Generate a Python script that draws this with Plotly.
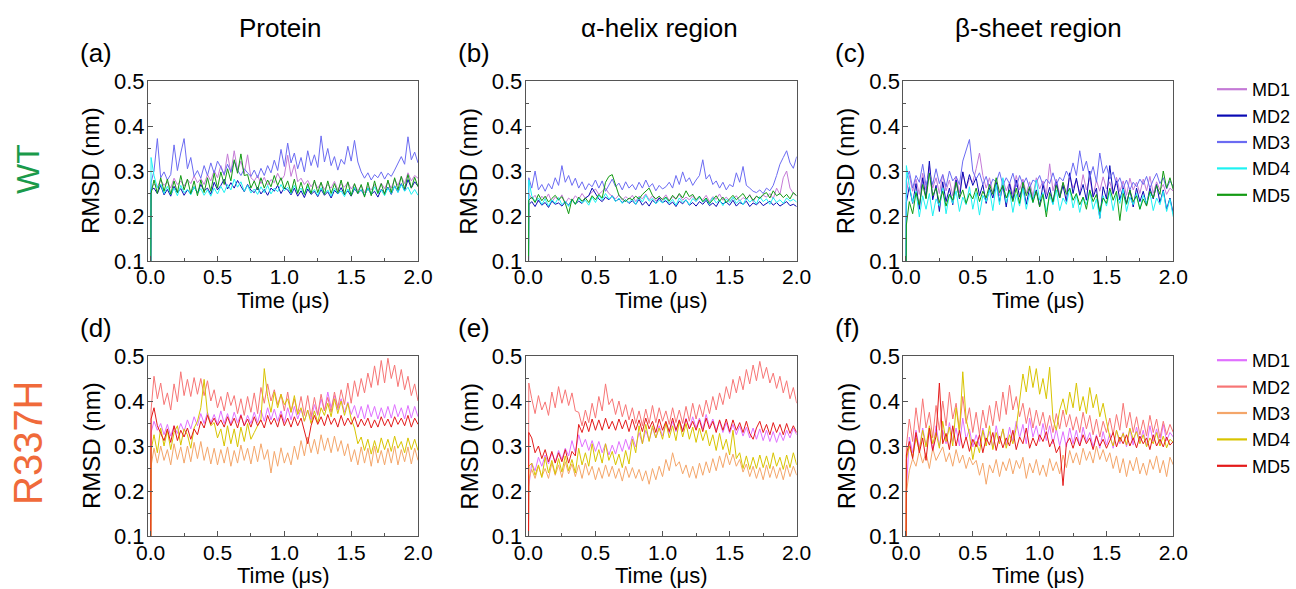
import numpy as np
import plotly.graph_objects as go

# ---------------- data ----------------
# time grid (μs): reference frame at 0, first frame, then 0.025 μs steps
T = np.concatenate([[0.0, 0.003], np.arange(1, 81) * 0.025])

labels = ["MD1", "MD2", "MD3", "MD4", "MD5"]
col_titles = ["Protein", "α-helix region", "β-sheet region"]
panel_tags = ["(a)", "(b)", "(c)", "(d)", "(e)", "(f)"]
row_names = ["WT", "R337H"]
x_ticks = [0.0, 0.5, 1.0, 1.5, 2.0]
y_ticks = [0.1, 0.2, 0.3, 0.4, 0.5]

wt_colors = ["#C47AD6", "#0A0AB4", "#6B6BF2", "#1EF2F2", "#139A13"]
mut_colors = ["#E070FF", "#F77575", "#F4A66A", "#D8C400", "#E41A1A"]

# WT protein (a)
a_md1 = [0.0, 0.262,
         0.271, 0.265, 0.280, 0.268, 0.276, 0.262, 0.284, 0.270, 0.278, 0.266,
         0.281, 0.272, 0.289, 0.274, 0.283, 0.270, 0.292, 0.278, 0.301, 0.285,
         0.312, 0.290, 0.338, 0.296, 0.345, 0.301, 0.322, 0.294, 0.336, 0.285,
         0.278, 0.290, 0.272, 0.286, 0.268, 0.281, 0.274, 0.295, 0.279, 0.290,
         0.335, 0.288, 0.314, 0.276, 0.284, 0.270, 0.279, 0.265, 0.276, 0.262,
         0.274, 0.259, 0.270, 0.262, 0.277, 0.258, 0.272, 0.264, 0.275, 0.260,
         0.271, 0.256, 0.268, 0.252, 0.266, 0.258, 0.270, 0.255, 0.273, 0.261,
         0.276, 0.262, 0.282, 0.268, 0.288, 0.272, 0.296, 0.278, 0.290, 0.284]
a_md2 = [0.0, 0.258,
         0.262, 0.250, 0.268, 0.247, 0.259, 0.244, 0.266, 0.252, 0.261, 0.246,
         0.258, 0.249, 0.265, 0.251, 0.270, 0.256, 0.262, 0.248, 0.275, 0.258,
         0.268, 0.282, 0.260, 0.274, 0.262, 0.279, 0.266, 0.254, 0.270, 0.257,
         0.252, 0.264, 0.249, 0.259, 0.246, 0.262, 0.255, 0.268, 0.250, 0.263,
         0.258, 0.247, 0.262, 0.244, 0.256, 0.241, 0.260, 0.248, 0.255, 0.243,
         0.259, 0.246, 0.254, 0.240, 0.257, 0.249, 0.263, 0.247, 0.256, 0.244,
         0.261, 0.250, 0.258, 0.245, 0.262, 0.248, 0.255, 0.242, 0.259, 0.251,
         0.264, 0.248, 0.267, 0.253, 0.272, 0.256, 0.281, 0.262, 0.276, 0.266]
a_md3 = [0.0, 0.275,
         0.300, 0.372, 0.285, 0.298, 0.280, 0.292, 0.358, 0.301, 0.340, 0.372,
         0.305, 0.330, 0.288, 0.301, 0.284, 0.312, 0.290, 0.318, 0.295, 0.322,
         0.308, 0.292, 0.315, 0.298, 0.322, 0.302, 0.290, 0.305, 0.296, 0.288,
         0.302, 0.285, 0.306, 0.290, 0.312, 0.296, 0.324, 0.301, 0.348, 0.310,
         0.362, 0.318, 0.340, 0.305, 0.330, 0.298, 0.345, 0.312, 0.336, 0.308,
         0.378, 0.320, 0.350, 0.312, 0.332, 0.302, 0.326, 0.315, 0.355, 0.322,
         0.368, 0.320, 0.298, 0.284, 0.296, 0.280, 0.292, 0.285, 0.298, 0.282,
         0.295, 0.288, 0.302, 0.318, 0.332, 0.315, 0.376, 0.325, 0.342, 0.318]
a_md4 = [0.0, 0.330,
         0.290, 0.262, 0.271, 0.250, 0.266, 0.248, 0.262, 0.245, 0.268, 0.252,
         0.259, 0.247, 0.265, 0.250, 0.261, 0.246, 0.258, 0.244, 0.262, 0.249,
         0.266, 0.252, 0.270, 0.258, 0.282, 0.264, 0.276, 0.255, 0.268, 0.251,
         0.260, 0.248, 0.265, 0.252, 0.268, 0.249, 0.262, 0.254, 0.270, 0.256,
         0.264, 0.250, 0.268, 0.253, 0.262, 0.248, 0.266, 0.251, 0.259, 0.246,
         0.263, 0.249, 0.258, 0.244, 0.262, 0.250, 0.256, 0.243, 0.260, 0.247,
         0.264, 0.251, 0.259, 0.246, 0.262, 0.249, 0.265, 0.250, 0.258, 0.245,
         0.262, 0.250, 0.266, 0.252, 0.270, 0.255, 0.264, 0.248, 0.259, 0.246]
a_md5 = [0.0, 0.250,
         0.280, 0.250, 0.285, 0.255, 0.282, 0.248, 0.278, 0.252, 0.290, 0.258,
         0.282, 0.250, 0.278, 0.245, 0.280, 0.252, 0.285, 0.255, 0.295, 0.262,
         0.298, 0.270, 0.305, 0.278, 0.325, 0.295, 0.338, 0.290, 0.292, 0.262,
         0.278, 0.258, 0.285, 0.262, 0.280, 0.265, 0.290, 0.268, 0.285, 0.260,
         0.278, 0.252, 0.282, 0.250, 0.275, 0.248, 0.272, 0.250, 0.280, 0.252,
         0.275, 0.248, 0.278, 0.250, 0.272, 0.252, 0.280, 0.248, 0.276, 0.245,
         0.272, 0.250, 0.270, 0.242, 0.275, 0.245, 0.278, 0.250, 0.272, 0.248,
         0.280, 0.252, 0.285, 0.258, 0.288, 0.260, 0.292, 0.262, 0.286, 0.265]

# WT alpha-helix (b)
b_md1 = [0.0, 0.250,
         0.238, 0.246, 0.232, 0.244, 0.236, 0.249, 0.231, 0.242, 0.235, 0.247,
         0.228, 0.240, 0.233, 0.245, 0.237, 0.250, 0.239, 0.246, 0.252, 0.260,
         0.248, 0.256, 0.262, 0.250, 0.244, 0.238, 0.247, 0.235, 0.243, 0.237,
         0.246, 0.232, 0.244, 0.238, 0.249, 0.236, 0.245, 0.233, 0.241, 0.238,
         0.247, 0.234, 0.243, 0.237, 0.248, 0.235, 0.242, 0.236, 0.245, 0.233,
         0.240, 0.236, 0.246, 0.232, 0.243, 0.237, 0.249, 0.235, 0.242, 0.234,
         0.238, 0.245, 0.233, 0.241, 0.236, 0.248, 0.232, 0.244, 0.239, 0.246,
         0.242, 0.250, 0.238, 0.262, 0.248, 0.285, 0.300, 0.262, 0.250, 0.245]
b_md2 = [0.0, 0.225,
         0.232, 0.221, 0.235, 0.224, 0.230, 0.219, 0.233, 0.226, 0.229, 0.222,
         0.231, 0.224, 0.236, 0.227, 0.233, 0.228, 0.240, 0.245, 0.262, 0.250,
         0.238, 0.232, 0.242, 0.236, 0.245, 0.233, 0.238, 0.230, 0.236, 0.228,
         0.234, 0.226, 0.237, 0.224, 0.232, 0.222, 0.235, 0.228, 0.240, 0.230,
         0.234, 0.225, 0.231, 0.221, 0.233, 0.227, 0.236, 0.224, 0.230, 0.222,
         0.232, 0.226, 0.235, 0.223, 0.229, 0.221, 0.234, 0.227, 0.231, 0.224,
         0.235, 0.222, 0.230, 0.226, 0.233, 0.221, 0.229, 0.225, 0.232, 0.223,
         0.228, 0.233, 0.224, 0.230, 0.222, 0.227, 0.232, 0.223, 0.226, 0.221]
b_md3 = [0.0, 0.285,
         0.262, 0.300, 0.258, 0.270, 0.255, 0.272, 0.260, 0.285, 0.268, 0.312,
         0.275, 0.290, 0.268, 0.284, 0.262, 0.276, 0.258, 0.272, 0.265, 0.280,
         0.262, 0.278, 0.255, 0.270, 0.282, 0.265, 0.273, 0.258, 0.276, 0.262,
         0.270, 0.258, 0.275, 0.262, 0.280, 0.264, 0.272, 0.256, 0.268, 0.260,
         0.265, 0.275, 0.262, 0.290, 0.270, 0.298, 0.276, 0.285, 0.268, 0.280,
         0.290, 0.325, 0.282, 0.292, 0.270, 0.278, 0.262, 0.275, 0.258, 0.270,
         0.265, 0.296, 0.275, 0.310, 0.268, 0.262, 0.255, 0.252, 0.258, 0.250,
         0.262, 0.256, 0.268, 0.290, 0.315, 0.330, 0.345, 0.318, 0.306, 0.332]
b_md4 = [0.0, 0.280,
         0.245, 0.232, 0.240, 0.226, 0.238, 0.222, 0.236, 0.228, 0.241, 0.225,
         0.233, 0.221, 0.237, 0.226, 0.240, 0.229, 0.235, 0.224, 0.242, 0.230,
         0.246, 0.236, 0.250, 0.238, 0.244, 0.232, 0.240, 0.228, 0.236, 0.230,
         0.238, 0.226, 0.242, 0.231, 0.246, 0.233, 0.239, 0.227, 0.235, 0.229,
         0.241, 0.228, 0.237, 0.224, 0.240, 0.230, 0.236, 0.225, 0.239, 0.232,
         0.244, 0.231, 0.238, 0.226, 0.241, 0.229, 0.236, 0.223, 0.238, 0.230,
         0.242, 0.228, 0.236, 0.225, 0.240, 0.231, 0.237, 0.227, 0.243, 0.232,
         0.238, 0.226, 0.241, 0.230, 0.236, 0.228, 0.240, 0.233, 0.237, 0.231]
b_md5 = [0.0, 0.235,
         0.242, 0.230, 0.248, 0.234, 0.244, 0.231, 0.239, 0.246, 0.236, 0.243,
         0.228, 0.205, 0.238, 0.226, 0.242, 0.233, 0.240, 0.230, 0.245, 0.236,
         0.248, 0.240, 0.275, 0.288, 0.292, 0.270, 0.246, 0.238, 0.232, 0.240,
         0.236, 0.244, 0.238, 0.248, 0.255, 0.262, 0.246, 0.238, 0.244, 0.236,
         0.242, 0.233, 0.246, 0.238, 0.250, 0.240, 0.256, 0.243, 0.248, 0.236,
         0.244, 0.232, 0.240, 0.228, 0.236, 0.245, 0.233, 0.242, 0.230, 0.238,
         0.246, 0.236, 0.243, 0.250, 0.238, 0.246, 0.235, 0.244, 0.239, 0.248,
         0.252, 0.240, 0.256, 0.245, 0.250, 0.241, 0.248, 0.238, 0.252, 0.245]

# WT beta-sheet (c)
c_md1 = [0.0, 0.250,
         0.290, 0.255, 0.282, 0.248, 0.295, 0.258, 0.310, 0.262, 0.285, 0.250,
         0.292, 0.256, 0.280, 0.245, 0.288, 0.252, 0.298, 0.260, 0.284, 0.275,
         0.305, 0.340, 0.290, 0.262, 0.285, 0.250, 0.278, 0.245, 0.282, 0.256,
         0.275, 0.248, 0.290, 0.258, 0.282, 0.250, 0.276, 0.244, 0.285, 0.260,
         0.278, 0.248, 0.316, 0.256, 0.282, 0.247, 0.274, 0.252, 0.288, 0.262,
         0.280, 0.250, 0.292, 0.258, 0.284, 0.245, 0.279, 0.255, 0.287, 0.260,
         0.276, 0.248, 0.286, 0.254, 0.278, 0.246, 0.284, 0.258, 0.275, 0.250,
         0.282, 0.256, 0.288, 0.250, 0.276, 0.258, 0.270, 0.248, 0.262, 0.255]
c_md2 = [0.0, 0.230,
         0.265, 0.228, 0.272, 0.215, 0.285, 0.240, 0.322, 0.236, 0.268, 0.210,
         0.276, 0.232, 0.262, 0.225, 0.280, 0.238, 0.298, 0.262, 0.292, 0.268,
         0.285, 0.245, 0.270, 0.228, 0.262, 0.240, 0.275, 0.232, 0.268, 0.220,
         0.272, 0.236, 0.280, 0.242, 0.268, 0.226, 0.262, 0.235, 0.258, 0.222,
         0.270, 0.238, 0.264, 0.228, 0.276, 0.240, 0.268, 0.232, 0.296, 0.250,
         0.284, 0.246, 0.270, 0.235, 0.300, 0.242, 0.262, 0.195, 0.265, 0.238,
         0.312, 0.250, 0.278, 0.236, 0.264, 0.228, 0.258, 0.220, 0.262, 0.232,
         0.255, 0.225, 0.262, 0.238, 0.270, 0.230, 0.258, 0.215, 0.240, 0.205]
c_md3 = [0.0, 0.280,
         0.300, 0.262, 0.290, 0.275, 0.315, 0.268, 0.296, 0.270, 0.305, 0.272,
         0.292, 0.265, 0.300, 0.278, 0.288, 0.270, 0.322, 0.345, 0.370, 0.300,
         0.282, 0.296, 0.270, 0.288, 0.262, 0.282, 0.275, 0.298, 0.268, 0.285,
         0.272, 0.295, 0.265, 0.290, 0.270, 0.285, 0.262, 0.280, 0.275, 0.290,
         0.268, 0.282, 0.272, 0.296, 0.270, 0.286, 0.278, 0.300, 0.285, 0.318,
         0.290, 0.345, 0.300, 0.322, 0.285, 0.310, 0.275, 0.340, 0.295, 0.312,
         0.282, 0.298, 0.270, 0.285, 0.262, 0.280, 0.258, 0.275, 0.265, 0.282,
         0.270, 0.288, 0.262, 0.280, 0.295, 0.272, 0.285, 0.260, 0.278, 0.265]
c_md4 = [0.0, 0.312,
         0.268, 0.230, 0.255, 0.198, 0.245, 0.215, 0.250, 0.200, 0.238, 0.222,
         0.262, 0.205, 0.248, 0.228, 0.256, 0.210, 0.242, 0.225, 0.265, 0.215,
         0.252, 0.202, 0.246, 0.232, 0.258, 0.212, 0.270, 0.225, 0.285, 0.230,
         0.255, 0.208, 0.248, 0.222, 0.262, 0.215, 0.250, 0.230, 0.280, 0.235,
         0.252, 0.210, 0.245, 0.225, 0.258, 0.212, 0.240, 0.226, 0.262, 0.218,
         0.248, 0.208, 0.242, 0.225, 0.256, 0.215, 0.238, 0.195, 0.245, 0.222,
         0.255, 0.212, 0.248, 0.228, 0.260, 0.210, 0.242, 0.225, 0.250, 0.215,
         0.246, 0.228, 0.252, 0.212, 0.240, 0.225, 0.255, 0.210, 0.238, 0.198]
c_md5 = [0.0, 0.180,
         0.232, 0.205, 0.252, 0.225, 0.270, 0.238, 0.295, 0.245, 0.262, 0.230,
         0.255, 0.222, 0.248, 0.235, 0.275, 0.240, 0.258, 0.228, 0.250, 0.238,
         0.262, 0.232, 0.255, 0.240, 0.270, 0.248, 0.285, 0.252, 0.268, 0.240,
         0.258, 0.232, 0.262, 0.228, 0.275, 0.245, 0.265, 0.230, 0.255, 0.220,
         0.248, 0.198, 0.252, 0.232, 0.268, 0.240, 0.275, 0.248, 0.262, 0.235,
         0.250, 0.225, 0.242, 0.215, 0.258, 0.232, 0.248, 0.210, 0.240, 0.228,
         0.262, 0.235, 0.255, 0.190, 0.250, 0.226, 0.258, 0.232, 0.245, 0.215,
         0.238, 0.222, 0.255, 0.240, 0.268, 0.248, 0.300, 0.262, 0.285, 0.258]

# R337H protein (d)
d_md1 = [0.0, 0.330,
         0.355, 0.335, 0.350, 0.325, 0.348, 0.322, 0.345, 0.328, 0.350, 0.332,
         0.358, 0.338, 0.365, 0.345, 0.372, 0.350, 0.375, 0.352, 0.370, 0.348,
         0.378, 0.350, 0.372, 0.348, 0.375, 0.352, 0.370, 0.345, 0.368, 0.350,
         0.375, 0.352, 0.380, 0.355, 0.385, 0.358, 0.382, 0.355, 0.378, 0.352,
         0.385, 0.358, 0.388, 0.360, 0.382, 0.355, 0.380, 0.358, 0.392, 0.368,
         0.405, 0.378, 0.420, 0.385, 0.412, 0.380, 0.405, 0.375, 0.398, 0.370,
         0.390, 0.362, 0.388, 0.360, 0.392, 0.365, 0.388, 0.360, 0.385, 0.362,
         0.388, 0.362, 0.392, 0.365, 0.385, 0.360, 0.390, 0.362, 0.388, 0.365]
d_md2 = [0.0, 0.380,
         0.455, 0.405, 0.440, 0.392, 0.418, 0.380, 0.438, 0.398, 0.465, 0.412,
         0.448, 0.410, 0.452, 0.415, 0.450, 0.412, 0.445, 0.400, 0.425, 0.385,
         0.410, 0.378, 0.420, 0.390, 0.412, 0.372, 0.405, 0.368, 0.410, 0.375,
         0.418, 0.372, 0.430, 0.395, 0.438, 0.400, 0.425, 0.392, 0.415, 0.378,
         0.420, 0.375, 0.405, 0.372, 0.410, 0.368, 0.412, 0.365, 0.408, 0.370,
         0.415, 0.378, 0.408, 0.375, 0.420, 0.385, 0.425, 0.392, 0.440, 0.395,
         0.445, 0.410, 0.450, 0.418, 0.462, 0.430, 0.478, 0.435, 0.490, 0.440,
         0.495, 0.450, 0.480, 0.432, 0.470, 0.425, 0.455, 0.412, 0.438, 0.400]
d_md3 = [0.0, 0.255,
         0.295, 0.262, 0.300, 0.268, 0.292, 0.258, 0.305, 0.270, 0.298, 0.262,
         0.300, 0.265, 0.308, 0.272, 0.310, 0.268, 0.298, 0.260, 0.295, 0.258,
         0.292, 0.262, 0.298, 0.255, 0.290, 0.262, 0.302, 0.268, 0.295, 0.260,
         0.300, 0.265, 0.305, 0.270, 0.292, 0.240, 0.288, 0.255, 0.296, 0.262,
         0.285, 0.258, 0.300, 0.270, 0.312, 0.278, 0.320, 0.285, 0.315, 0.282,
         0.325, 0.290, 0.318, 0.285, 0.322, 0.288, 0.312, 0.278, 0.305, 0.265,
         0.292, 0.258, 0.298, 0.262, 0.295, 0.255, 0.300, 0.262, 0.290, 0.258,
         0.295, 0.262, 0.300, 0.258, 0.292, 0.265, 0.298, 0.260, 0.295, 0.268]
d_md4 = [0.0, 0.290,
         0.325, 0.285, 0.340, 0.300, 0.335, 0.292, 0.330, 0.345, 0.302, 0.338,
         0.325, 0.295, 0.340, 0.355, 0.385, 0.448, 0.372, 0.345, 0.352, 0.318,
         0.338, 0.300, 0.345, 0.305, 0.338, 0.298, 0.342, 0.310, 0.350, 0.315,
         0.330, 0.345, 0.360, 0.472, 0.410, 0.375, 0.420, 0.385, 0.415, 0.392,
         0.405, 0.375, 0.412, 0.370, 0.385, 0.355, 0.380, 0.350, 0.378, 0.352,
         0.385, 0.368, 0.395, 0.365, 0.405, 0.372, 0.400, 0.368, 0.395, 0.360,
         0.340, 0.305, 0.320, 0.290, 0.315, 0.282, 0.312, 0.285, 0.318, 0.292,
         0.315, 0.288, 0.322, 0.295, 0.310, 0.285, 0.318, 0.292, 0.315, 0.290]
d_md5 = [0.0, 0.360,
         0.385, 0.345, 0.328, 0.312, 0.338, 0.308, 0.345, 0.312, 0.335, 0.320,
         0.340, 0.315, 0.338, 0.325, 0.355, 0.340, 0.368, 0.348, 0.362, 0.345,
         0.358, 0.342, 0.365, 0.345, 0.362, 0.340, 0.368, 0.345, 0.360, 0.342,
         0.365, 0.345, 0.358, 0.340, 0.368, 0.348, 0.362, 0.342, 0.370, 0.345,
         0.362, 0.342, 0.365, 0.345, 0.362, 0.335, 0.305, 0.345, 0.368, 0.348,
         0.365, 0.345, 0.370, 0.348, 0.362, 0.342, 0.368, 0.345, 0.362, 0.348,
         0.365, 0.342, 0.360, 0.345, 0.362, 0.340, 0.358, 0.342, 0.365, 0.345,
         0.360, 0.342, 0.365, 0.348, 0.362, 0.345, 0.368, 0.342, 0.362, 0.348]

# R337H alpha-helix (e)
e_md1 = [0.0, 0.210,
         0.262, 0.245, 0.275, 0.255, 0.280, 0.260, 0.285, 0.265, 0.290, 0.270,
         0.295, 0.278, 0.312, 0.285, 0.325, 0.298, 0.315, 0.290, 0.312, 0.288,
         0.310, 0.285, 0.305, 0.280, 0.302, 0.282, 0.310, 0.288, 0.315, 0.292,
         0.322, 0.298, 0.330, 0.305, 0.335, 0.312, 0.340, 0.318, 0.345, 0.322,
         0.352, 0.328, 0.355, 0.332, 0.358, 0.335, 0.362, 0.338, 0.365, 0.340,
         0.362, 0.338, 0.370, 0.342, 0.360, 0.335, 0.355, 0.330, 0.352, 0.328,
         0.348, 0.325, 0.345, 0.322, 0.342, 0.318, 0.340, 0.315, 0.338, 0.312,
         0.335, 0.310, 0.332, 0.308, 0.330, 0.312, 0.335, 0.318, 0.340, 0.325]
e_md2 = [0.0, 0.440,
         0.405, 0.372, 0.412, 0.380, 0.398, 0.368, 0.420, 0.385, 0.432, 0.395,
         0.425, 0.390, 0.418, 0.378, 0.375, 0.345, 0.380, 0.352, 0.395, 0.362,
         0.410, 0.378, 0.438, 0.392, 0.405, 0.370, 0.400, 0.365, 0.392, 0.358,
         0.385, 0.350, 0.378, 0.345, 0.382, 0.350, 0.390, 0.352, 0.385, 0.355,
         0.378, 0.348, 0.385, 0.352, 0.380, 0.350, 0.388, 0.355, 0.395, 0.360,
         0.392, 0.365, 0.402, 0.372, 0.410, 0.380, 0.418, 0.392, 0.432, 0.405,
         0.448, 0.418, 0.455, 0.425, 0.470, 0.438, 0.480, 0.445, 0.488, 0.450,
         0.475, 0.440, 0.462, 0.428, 0.455, 0.418, 0.445, 0.405, 0.430, 0.395]
e_md3 = [0.0, 0.225,
         0.248, 0.228, 0.255, 0.232, 0.250, 0.228, 0.262, 0.235, 0.258, 0.230,
         0.265, 0.238, 0.260, 0.232, 0.258, 0.228, 0.262, 0.235, 0.255, 0.225,
         0.252, 0.228, 0.258, 0.232, 0.255, 0.228, 0.250, 0.222, 0.255, 0.230,
         0.252, 0.228, 0.248, 0.222, 0.245, 0.215, 0.250, 0.225, 0.255, 0.232,
         0.270, 0.245, 0.285, 0.255, 0.265, 0.238, 0.258, 0.230, 0.255, 0.228,
         0.262, 0.235, 0.265, 0.240, 0.272, 0.245, 0.278, 0.252, 0.285, 0.258,
         0.282, 0.255, 0.270, 0.242, 0.260, 0.232, 0.255, 0.228, 0.252, 0.225,
         0.258, 0.230, 0.255, 0.228, 0.252, 0.225, 0.258, 0.232, 0.255, 0.235]
e_md4 = [0.0, 0.255,
         0.262, 0.235, 0.258, 0.230, 0.275, 0.240, 0.268, 0.238, 0.272, 0.242,
         0.278, 0.245, 0.270, 0.240, 0.295, 0.258, 0.285, 0.255, 0.305, 0.265,
         0.292, 0.262, 0.305, 0.268, 0.288, 0.258, 0.282, 0.252, 0.290, 0.260,
         0.315, 0.285, 0.345, 0.305, 0.348, 0.310, 0.345, 0.318, 0.340, 0.315,
         0.352, 0.318, 0.345, 0.312, 0.355, 0.320, 0.350, 0.315, 0.342, 0.308,
         0.340, 0.312, 0.335, 0.300, 0.325, 0.290, 0.328, 0.292, 0.315, 0.280,
         0.335, 0.272, 0.285, 0.250, 0.278, 0.248, 0.275, 0.250, 0.280, 0.252,
         0.278, 0.250, 0.285, 0.255, 0.275, 0.248, 0.280, 0.252, 0.285, 0.258]
e_md5 = [0.0, 0.330,
         0.318, 0.285, 0.300, 0.272, 0.292, 0.265, 0.288, 0.262, 0.285, 0.265,
         0.292, 0.262, 0.288, 0.278, 0.348, 0.330, 0.355, 0.332, 0.360, 0.335,
         0.358, 0.335, 0.362, 0.338, 0.355, 0.335, 0.360, 0.338, 0.358, 0.332,
         0.360, 0.335, 0.358, 0.332, 0.362, 0.338, 0.355, 0.330, 0.360, 0.335,
         0.355, 0.332, 0.362, 0.335, 0.358, 0.332, 0.360, 0.338, 0.355, 0.335,
         0.358, 0.332, 0.362, 0.338, 0.355, 0.330, 0.358, 0.335, 0.360, 0.332,
         0.358, 0.335, 0.352, 0.330, 0.355, 0.328, 0.315, 0.340, 0.355, 0.330,
         0.348, 0.325, 0.352, 0.330, 0.348, 0.325, 0.350, 0.328, 0.345, 0.330]

# R337H beta-sheet (f)
f_md1 = [0.0, 0.200,
         0.320, 0.285, 0.335, 0.295, 0.340, 0.302, 0.330, 0.288, 0.345, 0.300,
         0.335, 0.305, 0.352, 0.310, 0.340, 0.300, 0.362, 0.315, 0.338, 0.298,
         0.325, 0.300, 0.340, 0.310, 0.332, 0.295, 0.345, 0.308, 0.338, 0.302,
         0.342, 0.310, 0.355, 0.318, 0.348, 0.305, 0.362, 0.320, 0.345, 0.310,
         0.350, 0.312, 0.345, 0.305, 0.338, 0.300, 0.332, 0.298, 0.340, 0.305,
         0.335, 0.300, 0.342, 0.310, 0.330, 0.298, 0.325, 0.295, 0.332, 0.302,
         0.328, 0.295, 0.335, 0.305, 0.330, 0.298, 0.338, 0.302, 0.342, 0.308,
         0.335, 0.300, 0.345, 0.310, 0.338, 0.305, 0.348, 0.312, 0.330, 0.320]
f_md2 = [0.0, 0.300,
         0.360, 0.310, 0.385, 0.330, 0.405, 0.340, 0.375, 0.318, 0.390, 0.335,
         0.400, 0.345, 0.420, 0.360, 0.395, 0.335, 0.410, 0.350, 0.385, 0.330,
         0.375, 0.325, 0.380, 0.340, 0.390, 0.345, 0.400, 0.355, 0.420, 0.370,
         0.435, 0.380, 0.410, 0.365, 0.395, 0.350, 0.385, 0.340, 0.380, 0.345,
         0.375, 0.335, 0.368, 0.330, 0.372, 0.338, 0.380, 0.342, 0.370, 0.335,
         0.365, 0.330, 0.375, 0.338, 0.368, 0.325, 0.360, 0.320, 0.355, 0.330,
         0.362, 0.325, 0.370, 0.335, 0.395, 0.340, 0.375, 0.330, 0.365, 0.325,
         0.358, 0.322, 0.368, 0.330, 0.360, 0.318, 0.355, 0.325, 0.348, 0.330]
f_md3 = [0.0, 0.195,
         0.245, 0.272, 0.255, 0.290, 0.262, 0.285, 0.250, 0.295, 0.268, 0.282,
         0.298, 0.265, 0.285, 0.255, 0.292, 0.262, 0.280, 0.250, 0.275, 0.258,
         0.268, 0.235, 0.262, 0.215, 0.258, 0.240, 0.270, 0.232, 0.265, 0.245,
         0.272, 0.238, 0.268, 0.250, 0.275, 0.228, 0.262, 0.240, 0.270, 0.235,
         0.258, 0.232, 0.272, 0.245, 0.265, 0.238, 0.280, 0.252, 0.290, 0.262,
         0.285, 0.258, 0.295, 0.268, 0.288, 0.262, 0.300, 0.270, 0.292, 0.265,
         0.285, 0.250, 0.278, 0.240, 0.272, 0.232, 0.268, 0.245, 0.275, 0.238,
         0.262, 0.235, 0.270, 0.248, 0.278, 0.240, 0.268, 0.232, 0.275, 0.258]
f_md4 = [0.0, 0.270,
         0.300, 0.275, 0.318, 0.290, 0.335, 0.298, 0.345, 0.305, 0.330, 0.295,
         0.355, 0.310, 0.342, 0.300, 0.385, 0.330, 0.465, 0.360, 0.325, 0.270,
         0.310, 0.285, 0.335, 0.300, 0.345, 0.292, 0.330, 0.305, 0.338, 0.295,
         0.325, 0.305, 0.340, 0.395, 0.460, 0.420, 0.478, 0.430, 0.472, 0.415,
         0.450, 0.405, 0.475, 0.360, 0.335, 0.380, 0.405, 0.370, 0.420, 0.385,
         0.440, 0.378, 0.410, 0.372, 0.430, 0.385, 0.415, 0.365, 0.395, 0.355,
         0.320, 0.300, 0.335, 0.310, 0.328, 0.302, 0.340, 0.315, 0.332, 0.305,
         0.325, 0.298, 0.318, 0.305, 0.330, 0.300, 0.322, 0.296, 0.315, 0.308]
f_md5 = [0.0, 0.280,
         0.310, 0.272, 0.330, 0.285, 0.318, 0.268, 0.340, 0.290, 0.322, 0.440,
         0.305, 0.328, 0.292, 0.345, 0.300, 0.335, 0.295, 0.320, 0.288, 0.315,
         0.298, 0.325, 0.285, 0.318, 0.302, 0.330, 0.290, 0.322, 0.296, 0.318,
         0.300, 0.335, 0.292, 0.320, 0.305, 0.340, 0.295, 0.318, 0.300, 0.325,
         0.310, 0.332, 0.298, 0.315, 0.285, 0.300, 0.212, 0.305, 0.318, 0.295,
         0.320, 0.300, 0.325, 0.305, 0.318, 0.292, 0.322, 0.300, 0.315, 0.295,
         0.312, 0.330, 0.298, 0.320, 0.305, 0.325, 0.300, 0.318, 0.296, 0.322,
         0.305, 0.318, 0.292, 0.325, 0.300, 0.315, 0.298, 0.320, 0.302, 0.310]

panels = [
    [a_md1, a_md2, a_md3, a_md4, a_md5],
    [b_md1, b_md2, b_md3, b_md4, b_md5],
    [c_md1, c_md2, c_md3, c_md4, c_md5],
    [d_md1, d_md2, d_md3, d_md4, d_md5],
    [e_md1, e_md2, e_md3, e_md4, e_md5],
    [f_md1, f_md2, f_md3, f_md4, f_md5],
]

# ---------------- layout ----------------
W, H = 1296, 589
FONT = "Liberation Sans, Arial, sans-serif"
col_px = [(148, 418), (525.7, 796.7), (903.3, 1173.3)]
row_px = [(81, 261), (356, 536)]
title_cx = [280, 659, 1038]
x_label_standoff = [-3, -2]
AX = "#555555"

fig = go.Figure()
layout = dict(
    width=W, height=H, margin=dict(l=0, r=0, t=0, b=0, pad=0),
    paper_bgcolor="white", plot_bgcolor="white",
    font=dict(family=FONT, color="black"),
    showlegend=True,
)


def px_x(v):
    return v / W


def px_y(v):
    return 1 - v / H


annotations = []
for p in range(6):
    r, c = divmod(p, 3)
    k = p + 1
    xa = "xaxis" if k == 1 else f"xaxis{k}"
    ya = "yaxis" if k == 1 else f"yaxis{k}"
    x0, x1 = col_px[c]
    y0, y1 = row_px[r]
    common = dict(showline=True, mirror=True, linecolor=AX, linewidth=1,
                  ticks="inside", ticklen=5, tickwidth=1, tickcolor=AX,
                  showgrid=False, zeroline=False, automargin=False)
    layout[xa] = dict(common, domain=[px_x(x0), px_x(x1)], range=[-0.02, 2.0],
                      tickvals=x_ticks, tickformat=".1f", anchor=f"y{k}",
                      tickfont=dict(size=21, family=FONT, color="black"),
                      ticklabelstandoff=x_label_standoff[r],
                      minor=dict(dtick=0.25, tick0=0, ticks="inside", ticklen=3,
                                 tickcolor=AX))
    layout[ya] = dict(common, domain=[px_y(y1), px_y(y0)], range=[0.1, 0.5],
                      tickvals=y_ticks, tickformat=".1f", anchor=f"x{k}",
                      tickfont=dict(size=22, family=FONT, color="black"),
                      ticklabelstandoff=-2,
                      minor=dict(dtick=0.05, tick0=0.1, ticks="inside", ticklen=3,
                                 tickcolor=AX))
    colors = wt_colors if r == 0 else mut_colors
    for i, ys in enumerate(panels[p]):
        fig.add_trace(go.Scatter(
            x=T, y=ys, mode="lines", name=labels[i],
            line=dict(color=colors[i], width=1.0),
            xaxis=f"x{k}", yaxis=f"y{k}", showlegend=False,
        ))
    # panel tag
    annotations.append(dict(text=panel_tags[p], x=px_x(x0 - 70), y=px_y(y0 - 28),
                            xref="paper", yref="paper", xanchor="left", yanchor="middle",
                            showarrow=False, font=dict(size=26, family=FONT)))
    # axis titles
    annotations.append(dict(text="Time (μs)", x=px_x((x0 + x1) / 2), y=px_y(y1 + 26),
                            xref="paper", yref="paper", xanchor="center", yanchor="top",
                            borderpad=0,
                            showarrow=False, font=dict(size=22, family=FONT)))
    annotations.append(dict(text="RMSD (nm)", x=px_x(x0 - 57), y=px_y((y0 + y1) / 2),
                            xref="paper", yref="paper", xanchor="center", yanchor="middle",
                            textangle=-90, showarrow=False, font=dict(size=24, family=FONT)))

# legend entries (one legend per row, slightly thicker key lines)
for r, (colors, lg) in enumerate([(wt_colors, "legend"), (mut_colors, "legend2")]):
    for i in range(5):
        fig.add_trace(go.Scatter(
            x=[None], y=[None], mode="lines", name=labels[i],
            line=dict(color=colors[i], width=2.2),
            xaxis="x1" if r == 0 else "x4", yaxis="y1" if r == 0 else "y4",
            legend=lg, showlegend=True, hoverinfo="skip",
        ))

for c in range(3):
    annotations.append(dict(text=col_titles[c], x=px_x(title_cx[c]), y=px_y(28),
                            xref="paper", yref="paper", xanchor="center", yanchor="middle",
                            showarrow=False, font=dict(size=26, family=FONT)))

row_colors = ["#1A9A4A", "#F06A3A"]
row_cy = [169, 443]
row_size = [32, 40]
for r in range(2):
    annotations.append(dict(text=row_names[r], x=px_x(28), y=px_y(row_cy[r]),
                            xref="paper", yref="paper", xanchor="center", yanchor="middle",
                            textangle=-90, showarrow=False,
                            font=dict(size=row_size[r], family=FONT, color=row_colors[r])))

legend_common = dict(xanchor="left", yanchor="top", bgcolor="rgba(0,0,0,0)",
                     font=dict(size=18, family=FONT), tracegroupgap=0,
                     itemwidth=30)
layout["legend"] = dict(legend_common, x=px_x(1212), y=px_y(71))
layout["legend2"] = dict(legend_common, x=px_x(1212), y=px_y(342))
layout["annotations"] = annotations
fig.update_layout(**layout)

fig.write_html("out.html",
               config={"displayModeBar": False},
               post_script="document.body.style.margin='0';document.body.style.overflow='hidden';")
